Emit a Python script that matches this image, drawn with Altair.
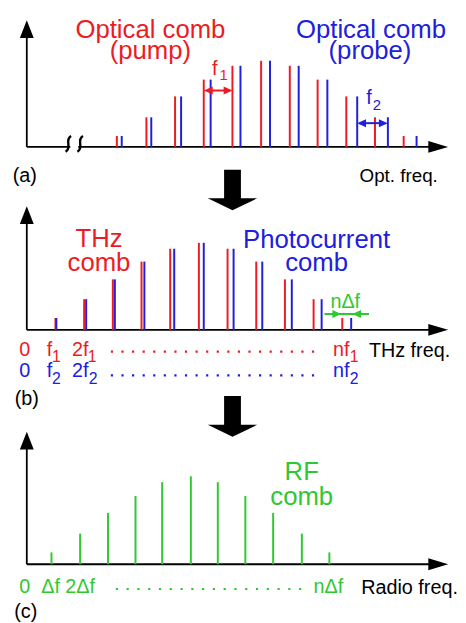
import altair as alt
import pandas as pd

RED = "#ec1c24"
BLUE = "#2020dc"
GREEN = "#30c830"
BLACK = "#000000"
FONT = "Liberation Sans"

# ---------------- data ----------------
# panel (a): optical combs (pump = red, probe = blue)
pump_freq = [3.14, 4.17, 5.17, 6.17, 7.17, 8.17, 9.17, 10.14, 11.14, 12.14, 13.14]
probe_freq = [3.31, 4.34, 5.38, 6.41, 7.45, 8.48, 9.48, 10.48, 11.52, 12.59, 13.59]
amp_a = [0.125, 0.34, 0.58, 0.773, 0.932, 0.989, 0.932, 0.773, 0.58, 0.34, 0.125]

# panel (b): THz comb (red) and photocurrent comb (blue)
thz_freq = [1.0, 2.0, 3.0, 4.0, 5.0, 6.0, 7.0, 8.0, 9.0, 10.0, 11.0]
photo_freq = [1.03, 2.07, 3.07, 4.10, 5.14, 6.17, 7.21, 8.21, 9.24, 10.28, 11.31]
amp_b = [0.136, 0.352, 0.58, 0.784, 0.932, 1.0, 0.932, 0.784, 0.58, 0.352, 0.136]

# panel (c): RF comb (green)
rf_freq = [0.86, 1.86, 2.83, 3.79, 4.72, 5.72, 6.66, 7.62, 8.59, 9.59, 10.55]
amp_c = [0.136, 0.352, 0.59, 0.784, 0.943, 1.01, 0.943, 0.784, 0.59, 0.352, 0.136]

# ---------------- layout ----------------
W = 450
XU, X0 = 29.0, 27.0   # px per frequency unit, page x of the vertical axis
YU = 88.0             # px per amplitude unit

PA = dict(top=8, h=192, base=145)
PB = dict(top=200, h=200, base=330)
PC = dict(top=400, h=215, base=567)


def ux(p):
    return (p - X0) / XU


def uy(p, P):
    return (P["base"] - p) / YU


XDOM = [ux(8), ux(8 + W)]


def xsc():
    return alt.Scale(domain=XDOM, nice=False, zero=False)


def ysc(P):
    return alt.Scale(domain=[uy(P["top"] + P["h"], P), uy(P["top"], P)], nice=False, zero=False)


def comb(freqs, amps, color, P, width=2):
    df = pd.DataFrame({"x": freqs, "y0": [0.0] * len(freqs), "y1": amps})
    return alt.Chart(df).mark_rule(color=color, strokeWidth=width).encode(
        x=alt.X("x:Q", scale=xsc(), axis=None),
        y=alt.Y("y0:Q", scale=ysc(P), axis=None),
        y2="y1:Q",
    )


def seg(P, x1, x2, y1, y2, color=BLACK, width=1.8, dash=None):
    df = pd.DataFrame({"x": [ux(x1)], "x2": [ux(x2)], "y": [uy(y1, P)], "y2": [uy(y2, P)]})
    kw = dict(color=color, strokeWidth=width, strokeCap="butt")
    if dash:
        kw["strokeDash"] = dash
    return alt.Chart(df).mark_rule(**kw).encode(
        x=alt.X("x:Q", scale=xsc(), axis=None),
        x2="x2:Q",
        y=alt.Y("y:Q", scale=ysc(P), axis=None),
        y2="y2:Q",
    )


def sym(P, px, py, shape, scale, color=BLACK, filled=True, width=0):
    # custom path is scaled by sqrt(size)/2 -> size = (2*scale)^2
    size = (2 * scale) ** 2
    df = pd.DataFrame({"x": [ux(px)], "y": [uy(py, P)]})
    if filled:
        mk = alt.Chart(df).mark_point(shape=shape, size=size, filled=True, fill=color,
                                      opacity=1, strokeWidth=0)
    else:
        mk = alt.Chart(df).mark_point(shape=shape, size=size, filled=False, stroke=color,
                                      opacity=1, strokeWidth=width)
    return mk.encode(x=alt.X("x:Q", scale=xsc(), axis=None),
                     y=alt.Y("y:Q", scale=ysc(P), axis=None))


def txt(P, px, py, s, color=BLACK, size=20, align="center"):
    df = pd.DataFrame({"x": [ux(px)], "y": [uy(py, P)], "t": [s]})
    return alt.Chart(df).mark_text(align=align, baseline="alphabetic", font=FONT,
                                   fontSize=size, color=color).encode(
        x=alt.X("x:Q", scale=xsc(), axis=None),
        y=alt.Y("y:Q", scale=ysc(P), axis=None),
        text="t:N",
    )


UP = "M0,0 L-0.78,2 L0.78,2 Z"
RIGHT = "M0,0 L-2,-0.6 L-2,0.6 Z"
HEAD_L = "M0,0 L2,-0.9 L2,0.9 Z"
HEAD_R = "M0,0 L-2,-0.9 L-2,0.9 Z"
BIGDOWN = "M-0.34,-1.64 L0.34,-1.64 L0.34,-0.48 L1,-0.48 L0,0 L-1,-0.48 L-0.34,-0.48 Z"
SQUIG = "M0.35,-1 C-0.55,-0.45 0.55,0.45 -0.35,1"


def axes(P, ytip):
    b = P["base"]
    return [
        seg(P, 27, 27, b, ytip + 10),
        seg(P, 27, 440, b, b),
        sym(P, 27, ytip, UP, 9),
        sym(P, 453, b, RIGHT, 10),
    ]


# ---------------- panel (a) ----------------
la = axes(PA, 17) + [
    seg(PA, 71, 79, 145, 145, color="#ffffff", width=4),
    sym(PA, 69, 142, SQUIG, 8, filled=False, width=2.4),
    sym(PA, 81, 142, SQUIG, 8, filled=False, width=2.4),
    comb(pump_freq, amp_a, RED, PA),
    comb(probe_freq, amp_a, BLUE, PA),
    txt(PA, 152, 35, "Optical comb", RED, 26),
    txt(PA, 152, 56, "(pump)", RED, 26),
    txt(PA, 375, 35, "Optical comb", BLUE, 26),
    txt(PA, 374, 56, "(probe)", BLUE, 26),
    txt(PA, 217, 72, "f", RED, 20),
    txt(PA, 226, 77, "1", RED, 15),
    seg(PA, 210, 231, 88, 88, color=RED, width=2),
    sym(PA, 206, 88, HEAD_L, 4.5, RED),
    sym(PA, 235, 88, HEAD_R, 4.5, RED),
    txt(PA, 373, 102, "f", BLUE, 20),
    txt(PA, 381, 108, "2", BLUE, 15),
    seg(PA, 365, 388, 121, 121, color=BLUE, width=2),
    sym(PA, 361, 121, HEAD_L, 4.5, BLUE),
    sym(PA, 392, 121, HEAD_R, 4.5, BLUE),
    txt(PA, 25, 181, "(a)", BLACK, 20),
    txt(PA, 403, 181, "Opt. freq.", BLACK, 19),
    sym(PA, 235, 209, BIGDOWN, 25),
]
panel_a = alt.layer(*la).properties(width=W, height=PA["h"])

# ---------------- panel (b) ----------------
lb = axes(PB, 205) + [
    comb(thz_freq, amp_b, RED, PB),
    comb(photo_freq, amp_b, BLUE, PB),
    txt(PB, 100, 246, "THz", RED, 26),
    txt(PB, 100, 270, "comb", RED, 26),
    txt(PB, 320, 247, "Photocurrent", BLUE, 26),
    txt(PB, 320, 270, "comb", BLUE, 26),
    txt(PB, 349, 308, "n\u0394f", GREEN, 20),
    seg(PB, 328, 373, 314, 314, color=GREEN, width=2),
    sym(PB, 345, 314, HEAD_R, 4.5, GREEN),
    sym(PB, 356, 314, HEAD_L, 4.5, GREEN),
    # red row
    txt(PB, 25, 356, "0", RED, 20),
    txt(PB, 50, 356, "f", RED, 20),
    txt(PB, 57, 363, "1", RED, 16),
    txt(PB, 81, 356, "2f", RED, 20),
    txt(PB, 93, 363, "1", RED, 16),
    seg(PB, 112, 320, 352, 352, color=RED, width=2.2, dash=[2.2, 8.5]),
    txt(PB, 345, 356, "nf", RED, 20),
    txt(PB, 358, 363, "1", RED, 16),
    txt(PB, 414, 357, "THz freq.", BLACK, 20),
    # blue row
    txt(PB, 25, 378, "0", BLUE, 20),
    txt(PB, 50, 378, "f", BLUE, 20),
    txt(PB, 57, 385, "2", BLUE, 16),
    txt(PB, 81, 378, "2f", BLUE, 20),
    txt(PB, 94, 385, "2", BLUE, 16),
    seg(PB, 112, 320, 376, 376, color=BLUE, width=2.2, dash=[2.2, 8.5]),
    txt(PB, 345, 378, "nf", BLUE, 20),
    txt(PB, 358, 385, "2", BLUE, 16),
    txt(PB, 27, 406, "(b)", BLACK, 20),
]
panel_b = alt.layer(*lb).properties(width=W, height=PB["h"])

# ---------------- panel (c) ----------------
lc = axes(PC, 433) + [
    sym(PC, 235, 438, BIGDOWN, 25),
    comb(rf_freq, amp_c, GREEN, PC),
    txt(PC, 305, 482, "RF", GREEN, 26),
    txt(PC, 305, 507, "comb", GREEN, 26),
    txt(PC, 25, 596, "0", GREEN, 20),
    txt(PC, 51, 596, "\u0394f", GREEN, 20),
    txt(PC, 81, 596, "2\u0394f", GREEN, 20),
    seg(PC, 117, 306, 592, 592, color=GREEN, width=2.2, dash=[2.2, 8.7]),
    txt(PC, 332, 596, "n\u0394f", GREEN, 20),
    txt(PC, 414, 597, "Radio freq.", BLACK, 20),
    txt(PC, 26, 621, "(c)", BLACK, 20),
]
panel_c = alt.layer(*lc).properties(width=W, height=PC["h"])

chart = alt.vconcat(panel_a, panel_b, panel_c, spacing=0, bounds="flush").properties(
    padding=0
).configure_view(stroke=None)

chart.save("out.html", embed_options={"renderer": "svg", "actions": False})
